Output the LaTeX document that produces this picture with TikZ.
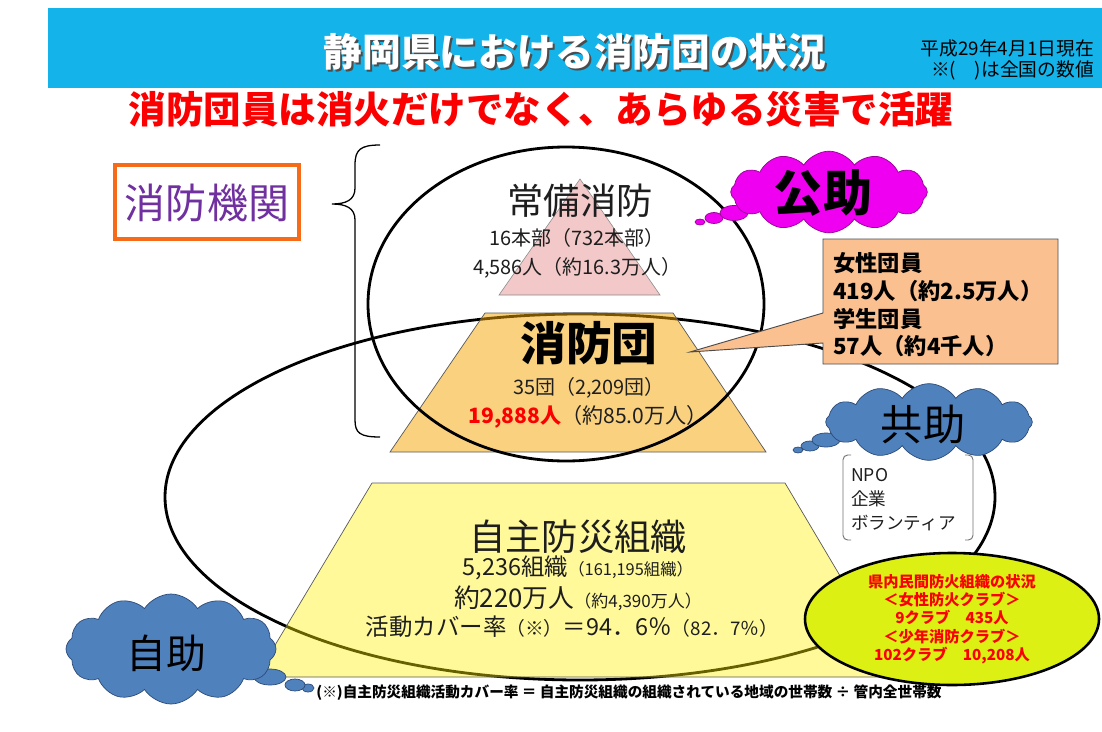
\documentclass[tikz,border=0pt]{standalone}
\usepackage{fontspec}
\setmainfont{Noto Sans CJK JP}
\usetikzlibrary{shapes.symbols}
\definecolor{bannerc}{RGB}{20,180,235}
\definecolor{redc}{RGB}{250,0,0}
\definecolor{purplec}{RGB}{112,48,160}
\definecolor{orangec}{RGB}{247,106,24}
\definecolor{pinkc}{RGB}{242,200,200}
\definecolor{goldc}{RGB}{245,165,0}
\definecolor{cloudblue}{RGB}{79,129,189}
\definecolor{cloudedge}{RGB}{45,75,120}
\definecolor{magc}{RGB}{240,0,240}
\definecolor{magedge}{RGB}{150,0,150}
\definecolor{calloutc}{RGB}{250,192,144}
\definecolor{limec}{RGB}{220,240,20}
\definecolor{inkc}{RGB}{30,30,30}
\newcommand\myfs[1]{\fontsize{#1}{#1}\selectfont}
\tikzset{
  txt/.style={inner sep=0pt, align=center, text=inkc},
  ring/.style={draw=black, line width=2.4pt},
  puff/.style={cloud, cloud puffs=12, cloud puff arc=115, cloud ignores aspect, inner sep=0pt},
  bluepuff/.style={puff, fill=cloudblue, draw=cloudedge, line width=0.6pt},
  bubble/.style={fill=cloudblue, draw=cloudedge, line width=0.6pt},
  magbubble/.style={fill=magc, draw=magedge, line width=0.6pt},
  trap/.style={draw=black!65, line width=0.6pt},
}
\begin{document}
\begin{tikzpicture}[x=0.03cm,y=-0.03cm]
\useasboundingbox[fill=white] (0,0) rectangle (1102,731);
% banner
\fill[bannerc] (48,8) rectangle (1102,88);
\node[txt, text=black!70] (titleshadow) at (577,54) {\myfs{33}\bfseries 静岡県における消防団の状況};
\node[txt, text=white] (title) at (575,52) {\myfs{33}\bfseries 静岡県における消防団の状況};
\node[txt, anchor=east, text=black] (date) at (1094,48) {\myfs{16}平成29年4月1日現在};
\node[txt, anchor=east, text=black] (note) at (1094,70) {\myfs{16}※(\hspace{1em})は全国の数値};
\node[txt, text=redc] (sub) at (541,109) {\myfs{32}\bfseries 消防団員は消火だけでなく、あらゆる災害で活躍};
% big ellipse
\draw[ring] (580,497) ellipse [x radius=415, y radius=183];
% pyramids
\draw[draw=black!45, fill=pinkc, line width=0.5pt] (580,179) -- (660,295) -- (499,295) -- cycle;
\fill[goldc, fill opacity=0.5] (485,313) -- (673,313) -- (766,452) -- (390,452) -- cycle;
\draw[trap] (485,313) -- (673,313) -- (766,452) -- (390,452) -- cycle;
\fill[yellow, fill opacity=0.4] (372,483) -- (785,483) -- (900,677) -- (256,677) -- cycle;
\draw[trap] (372,483) -- (785,483) -- (900,677) -- (256,677) -- cycle;
% top circle
\draw[ring] (566,304) ellipse [x radius=198, y radius=157];
% texts in pyramids
\node[txt] (joubi) at (580,201) {\myfs{31}常備消防};
\node[txt] (joubi1) at (577,238) {\myfs{17}16本部（732本部）};
\node[txt] (joubi2) at (577,268) {\myfs{17}4,586人（約16.3万人）};
\node[txt, text=black] (shoubo) at (589,343) {\myfs{39}\bfseries 消防団};
\node[txt] (shoubo1) at (589,388) {\myfs{17}35団（2,209団）};
\node[txt] (shoubo2) at (588,417) {\myfs{18}{\color{redc}\bfseries 19,888人}（約85.0万人）};
\node[txt] (jishu) at (578,537) {\myfs{31}自主防災組織};
\node[txt] (jishu1) at (578,568) {\myfs{20}5,236組織{\myfs{14}（161,195組織）}};
\node[txt] (jishu2) at (578,598) {\myfs{22}約220万人{\myfs{14.5}（約4,390万人）}};
\node[txt] (jishu3) at (572,627) {\myfs{20}活動カバー率{\myfs{16}（※）}＝94．6％{\myfs{16}（82．7％）}};
% brace and agency box
\draw[black, line width=1.1pt] (380,145) .. controls (360,145) and (355,150) .. (355,165) -- (355,188)
  .. controls (355,200) and (346,204) .. (332,204) .. controls (346,204) and (355,208) .. (355,220)
  -- (355,420) .. controls (355,433) and (360,437) .. (380,437);
\node[draw=orangec, line width=3.6pt, fill=white, minimum width=5.5cm, minimum height=2.2cm, inner sep=0pt] (kikanbox) at (207,202) {};
\node[txt, text=purplec] (kikan) at (207,203) {\myfs{35}消防機関};
% 公助 cloud
\draw[magbubble] (700,222) ellipse [x radius=5, y radius=3];
\draw[magbubble] (714,218) ellipse [x radius=9, y radius=5.5];
\draw[magbubble] (734,213) ellipse [x radius=14, y radius=7.5];
\node[puff, fill=magc, draw=magedge, line width=0.6pt, minimum width=5.9cm, minimum height=2.45cm] (kojocloud) at (829,192) {};
\node[txt, text=black] (kojo) at (823,193) {\myfs{42}\bfseries 公助};
% callout
\draw[draw=black!70, fill=calloutc, line width=0.8pt] (823,239) -- (1058,239) -- (1058,364) -- (823,364) -- (823,343) -- (690,352) -- (823,313) -- cycle;
\node[txt, anchor=west, align=left, text=black, font={\fontsize{19}{23.6}\selectfont\bfseries}] (women) at (833,305) {女性団員\\419人（約2.5万人）\\学生団員\\57人（約4千人）};
% 共助 cloud
\draw[bubble] (798,450) ellipse [x radius=5, y radius=3];
\draw[bubble] (810,446) ellipse [x radius=9, y radius=5];
\draw[bubble] (826,440) ellipse [x radius=14, y radius=7];
\node[bluepuff, minimum width=6.2cm, minimum height=2.3cm] (kyojocloud) at (929,422) {};
\node[txt, text=black] (kyojo) at (923,425) {\myfs{36}共助};
% NPO bracket box
\draw[black!55, line width=0.8pt, rounded corners=4pt] (851,455) -- (843,455) -- (843,540) -- (851,540);
\draw[black!55, line width=0.8pt, rounded corners=4pt] (965,455) -- (973,455) -- (973,540) -- (965,540);
\node[txt, anchor=west, align=left, font={\fontsize{15}{20.5}\selectfont}] (npo) at (851,500) {NPO\\企業\\ボランティア};
% 自助 cloud
\draw[bubble] (308,688) ellipse [x radius=6, y radius=4];
\draw[bubble] (295,685) ellipse [x radius=10, y radius=6];
\draw[bubble] (270,677) ellipse [x radius=16, y radius=8];
\node[bluepuff, minimum width=6.3cm, minimum height=3.3cm] (jijocloud) at (171,649) {};
\node[txt, text=black] (jijo) at (166,653) {\myfs{34}自助};
% lime ellipse
\draw[draw=black, line width=2.2pt, fill=limec] (952,619) ellipse [x radius=147, y radius=66];
\node[txt, text=redc, font={\fontsize{13}{15.7}\selectfont\bfseries}] (clubs) at (952,619) {県内民間防火組織の状況\\＜女性防火クラブ＞\\9クラブ\quad 435人\\＜少年消防クラブ＞\\102クラブ\quad 10,208人};
% footnote
\node[txt, text=black] (foot) at (629,693) {\myfs{12.5}\bfseries (※)自主防災組織活動カバー率 ＝ 自主防災組織の組織されている地域の世帯数 ÷ 管内全世帯数};
\end{tikzpicture}
\end{document}
